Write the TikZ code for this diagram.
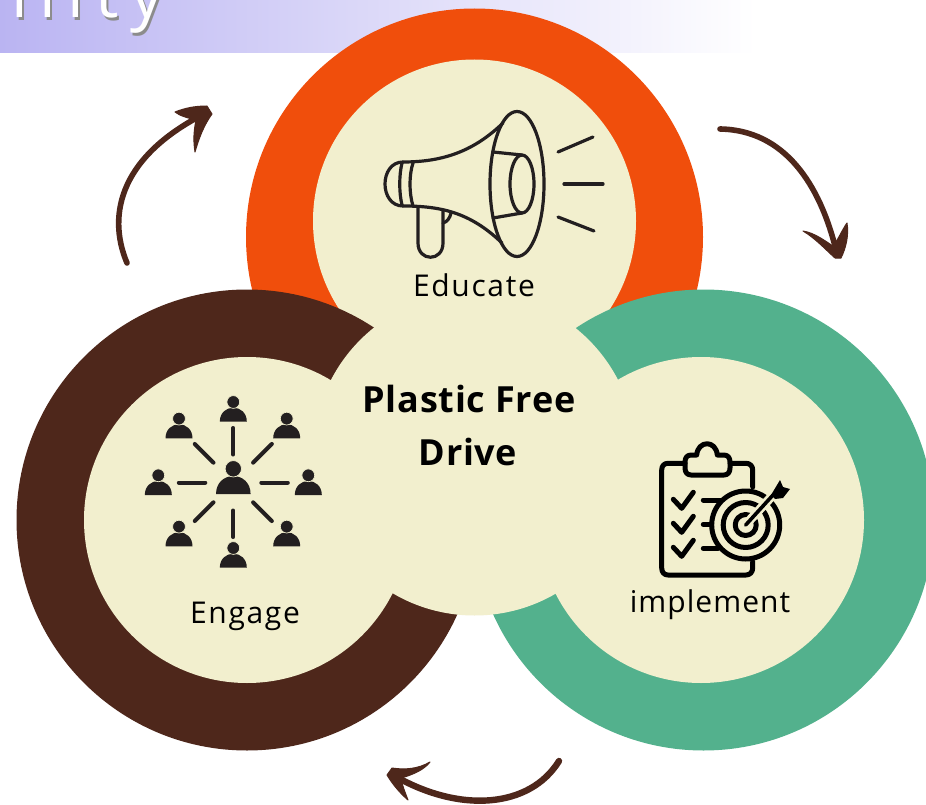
\documentclass[tikz,border=0pt]{standalone}
\usepackage{fontspec}
\setmainfont{Open Sans}
\usetikzlibrary{positioning}
\definecolor{ringE}{HTML}{F04E0C}
\definecolor{ringG}{HTML}{4E271B}
\definecolor{ringI}{HTML}{53B18D}
\definecolor{discC}{HTML}{F2EFCE}
\definecolor{iconC}{HTML}{231F20}
\definecolor{bandC}{RGB}{186,180,242}
\newcommand{\titlefrag}{\addfontfeature{LetterSpace=17}bility}
\tikzset{
  ring/.style={circle, inner sep=0pt, minimum size=461pt},
  disc/.style={circle, inner sep=0pt, fill=discC},
  label/.style={anchor=base, inner sep=0pt, font=\fontsize{30}{30}\selectfont},
  mainlabel/.style={anchor=base, inner sep=0pt, font=\fontsize{36}{36}\selectfont\bfseries\addfontfeature{LetterSpace=2}},
  curveline/.style={draw=ringG, line width=5.6pt, line cap=round},
  curvehead/.style={fill=ringG, draw=ringG, line width=1pt, line join=round},
  horn/.style={draw=iconC, line width=3.2pt, line cap=round, line join=round},
  hubline/.style={draw=iconC, line width=4pt, line cap=round},
  board/.style={draw=black, line width=5pt, line cap=round, line join=round},
  person/.pic={
    \fill[iconC] (-13.5,0) .. controls (-13.5,-9) and (-7,-14) .. (0,-14) .. controls (7,-14) and (13.5,-9) .. (13.5,0) -- cycle;
    \filldraw[fill=iconC, draw=discC, line width=.7pt] (0,-19.7) circle (6.4);
  }
}
\begin{document}
\begin{tikzpicture}[x=1pt, y=-1pt]
  \clip (0,0) rectangle (926,805);
  \fill[white] (0,0) rectangle (926,805);
  % title band
  \shade[left color=bandC, right color=white] (0,0) rectangle (756,53);
  \node[anchor=base west, inner sep=0pt, text=black!45, font=\fontsize{66}{66}\selectfont] (titleS) at (-38,21) {\titlefrag};
  \node[anchor=base west, inner sep=0pt, text=white, font=\fontsize{66}{66}\selectfont] (title) at (-40,18) {\titlefrag};

  % rings and discs
  \node[ring, fill=ringE, minimum size=457pt] (rE) at (474.5,237) {};
  \node[disc, minimum size=323pt] (dE) at (474.5,221) {};
  \node[ring, fill=ringI] (rI) at (703.5,520) {};
  \node[ring, fill=ringG] (rG) at (247,520) {};
  \node[disc, minimum size=326pt] (dI) at (701,520) {};
  \node[disc, minimum size=326pt] (dG) at (247,520) {};
  \node[disc, minimum size=323pt] (dC) at (474.5,454) {};

  \node[label] (lE) at (474,296) {\addfontfeature{LetterSpace=5.5}Educate};
  \node[label] (lG) at (245,623) {\addfontfeature{LetterSpace=5.5}Engage};
  \node[label] (lI) at (710,612) {\addfontfeature{LetterSpace=3.5}implement};
  \node[mainlabel] (lC1) at (469,412) {Plastic Free};
  \node[mainlabel] (lC2) at (468,465) {Drive};

  % arrows round the rings
  \coordinate (a1s) at (127,263);
  \coordinate (a1e) at (206,113);
  \coordinate (a2s) at (720,129);
  \coordinate (a2e) at (836,250);
  \coordinate (a3s) at (559,761);
  \coordinate (a3e) at (393,775);
  \draw[curveline] (a1s) .. controls (106,213) and (122,155) .. (a1e);
  \fill[curvehead] (175,112) .. controls (185,108) and (195,106) .. (207,106) -- (212,114) .. controls (204,125) and (199,138) .. (195,152) .. controls (193,140) and (194,130) .. (196,120) .. controls (188,118) and (180,116) .. cycle;
  \draw[curveline] (a2s) .. controls (785,130) and (820,185) .. (a2e);
  \fill[curvehead] (803,231) .. controls (815,233) and (825,241) .. (833,246) .. controls (838,240) and (842,230) .. (847,223) .. controls (849,235) and (846,248) .. (841,258) -- (835,258) .. controls (826,250) and (815,238) .. cycle;
  \draw[curveline, line width=6.4pt] (a3s) .. controls (530,808) and (460,814) .. (a3e);
  \fill[curvehead] (430,762) .. controls (418,769) and (405,770) .. (392,768) -- (387,775) .. controls (393,785) and (400,793) .. (408,800) .. controls (405,792) and (402,785) .. (401,778) .. controls (412,775) and (424,770) .. cycle;

  % megaphone
  \draw[horn] (517,184) ellipse (27 and 72.5);
  \draw[horn] (522,184) ellipse (12 and 29);
  \draw[horn] (493,152) -- (522,155);
  \draw[horn] (493,218) -- (522,213);
  \draw[horn] (503,123) .. controls (475,150) and (445,162) .. (403,162);
  \draw[horn] (403,206) .. controls (440,206) and (470,212) .. (502,243);
  \draw[horn] (403,162) .. controls (379,162) and (379,206) .. (403,206);
  \draw[horn] (402,163) .. controls (399,175) and (399,193) .. (402,205);
  \draw[horn] (413,163) .. controls (409,175) and (409,193) .. (413,206);
  \draw[horn] (418,207) -- (418,243) .. controls (418,262) and (443,262) .. (443,243) -- (443,210);
  \draw[horn] (443,223) .. controls (447,222) and (450,218) .. (451,213);
  \draw[horn] (558,152) -- (593,137);
  \draw[horn] (564,184) -- (603,184);
  \draw[horn] (558,217) -- (594,231);

  % people
  \pic (pC) at (233.3,494) [scale=1.28] {person};
  \foreach \i/\x/\y in {1/233.3/421.7, 2/179/438.3, 3/286.7/438.3, 4/158.3/495, 5/308.3/495, 6/179/546.3, 7/286.7/546.3, 8/233.3/567.7}
    \pic (p\i) at (\x,\y) {person};
  \foreach \a in {0,45,...,315}
    \draw[hubline, shift={(233.3,482.5)}] (\a:28) -- (\a:54.5);

  % clipboard and target
  \draw[board] (685,463.3) -- (668,463.3) .. controls (664,463.3) and (661.7,466) .. (661.7,470) -- (661.7,568) .. controls (661.7,572) and (664,575) .. (668,575) -- (746,575) .. controls (750,575) and (752.7,572) .. (752.7,568) -- (752.7,561.7);
  \draw[board] (730,463.3) -- (746,463.3) .. controls (750,463.3) and (752.7,466) .. (752.7,470) -- (752.7,487);
  \draw[board] (696.7,455) -- (691,455) .. controls (687,455) and (685,458) .. (685,462) -- (685,468) .. controls (685,472) and (687,475) .. (691,475) -- (724,475) .. controls (728,475) and (730,472) .. (730,468) -- (730,462) .. controls (730,458) and (728,455) .. (724,455) -- (717.3,455) .. controls (716,440) and (698,440) .. (696.7,455);
  \foreach \d in {0,24,48}
    \draw[board, yshift=-\d pt] (673.3,499.3) -- (681.7,508.3) -- (693.3,492.3);
  \draw[board] (703.3,500) -- (720,500);
  \draw[board] (703.3,524.3) -- (710,524.3);
  \draw[board] (703.3,548.3) -- (718,548.3);
  \draw[board] (745.7,525) circle (34);
  \draw[board] (745.7,525) circle (22.5);
  \draw[board] (745.7,525) circle (10.5);
  \draw[discC, line width=9pt] (749,521) -- (773,495);
  \draw[board, line width=3.6pt] (745.7,525) -- (773,495);
  \fill[black] (771,495) -- (780,480) -- (783,487) -- (790,489) -- (783,498) -- (775,499) -- cycle;
\end{tikzpicture}
\end{document}
